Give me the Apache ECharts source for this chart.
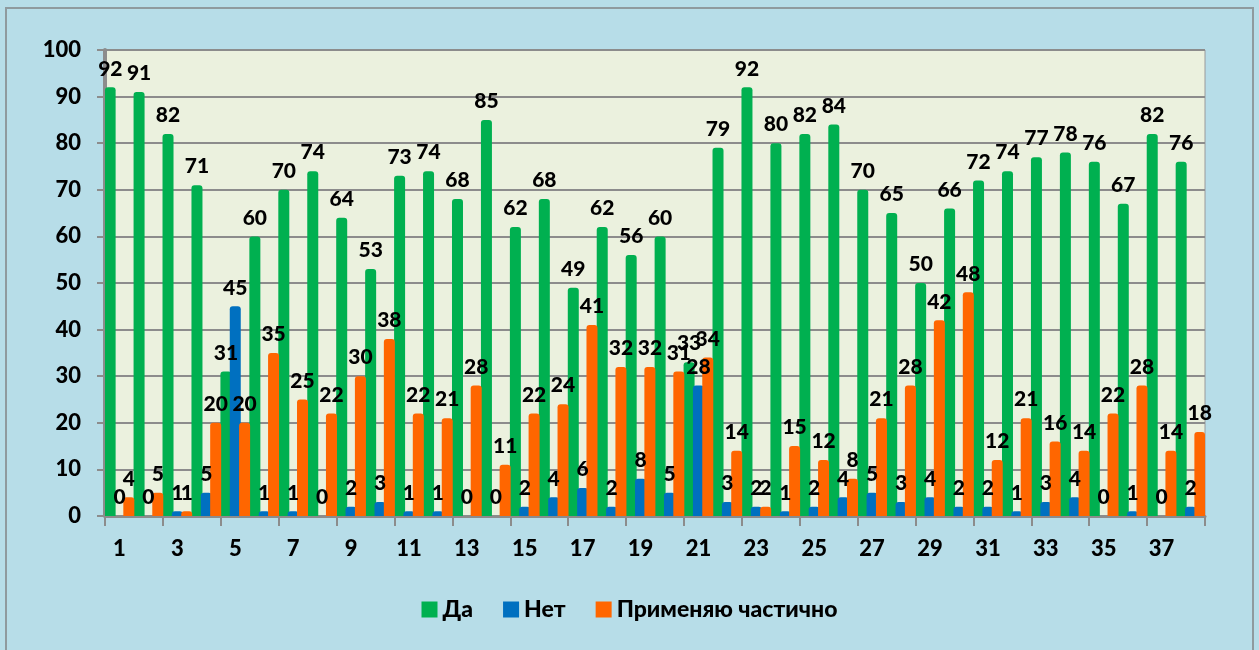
<!DOCTYPE html>
<html>
<head>
<meta charset="utf-8">
<script src="https://cdn.jsdelivr.net/npm/echarts@6/dist/echarts.min.js"></script>
<style>
  html, body { margin: 0; padding: 0; background: #b7dde8; }
  #main { width: 1259px; height: 650px; }
</style>
</head>
<body>
<div id="main"></div>
<script>
var categories = [];
for (var i = 1; i <= 38; i++) categories.push(String(i));

var data_da = [92, 91, 82, 71, 31, 60, 70, 74, 64, 53, 73, 74, 68, 85, 62, 68, 49, 62, 56, 60,
	33, 79, 92, 80, 82, 84, 70, 65, 50, 66, 72, 74, 77, 78, 76, 67, 82, 76];
var data_net = [0, 0, 1, 5, 45, 1, 1, 0, 2, 3, 1, 1, 0, 0, 2, 4, 6, 2, 8, 5,
	28, 3, 2, 1, 2, 4, 5, 3, 4, 2, 2, 1, 3, 4, 0, 1, 0, 2];
var data_part = [4, 5, 1, 20, 20, 35, 25, 22, 30, 38, 22, 21, 28, 11, 22, 24, 41, 32, 32, 31,
	34, 14, 2, 15, 12, 8, 21, 28, 42, 48, 12, 21, 16, 14, 22, 28, 14, 18];

var labelStyle = {
	show: true,
	position: 'top',
	distance: 8,
	color: '#000',
	fontFamily: 'Lato',
	fontWeight: 900,
	fontSize: 21
};

var option = {
	backgroundColor: '#b7dde8',
	graphic: [
		{
			type: 'rect',
			shape: { x: 6, y: 8, width: 1247, height: 660 },
			style: { fill: 'none', stroke: '#8f9a9e', lineWidth: 2 }
		}
	],
	legend: {
		data: ['Да', 'Нет', 'Применяю частично'],
		bottom: 24,
		left: 'center',
		itemWidth: 16,
		itemHeight: 16,
		itemGap: 30,
		icon: 'rect',
		textStyle: { fontFamily: 'Lato', fontWeight: 900, fontSize: 23, color: '#000' }
	},
	grid: {
		left: 105,
		right: 54,
		top: 50,
		bottom: 134,
		show: true,
		backgroundColor: '#ebf1de',
		borderColor: '#9a9a9a',
		borderWidth: 1
	},
	xAxis: {
		type: 'category',
		data: categories,
		axisLine: { lineStyle: { color: '#8c8c8c', width: 3 } },
		axisTick: { show: true, length: 10, lineStyle: { color: '#8c8c8c', width: 2 } },
		axisLabel: {
			interval: 1,
			margin: 22,
			color: '#000',
			fontFamily: 'Lato',
			fontWeight: 900,
			fontSize: 22
		}
	},
	yAxis: {
		type: 'value',
		min: 0,
		max: 100,
		interval: 10,
		axisLine: { show: true, lineStyle: { color: '#8c8c8c', width: 4 } },
		axisTick: { show: true, length: 8, lineStyle: { color: '#8c8c8c', width: 2 } },
		splitLine: { lineStyle: { color: '#8c8c8c', width: 2 } },
		axisLabel: {
			margin: 24,
			color: '#000',
			fontFamily: 'Lato',
			fontWeight: 900,
			fontSize: 22
		}
	},
	series: [
		{
			name: 'Да',
			type: 'bar',
			data: data_da,
			barWidth: 11,
			barGap: '-15%',
			itemStyle: { color: '#00b050', borderRadius: [3, 3, 0, 0] },
			label: labelStyle
		},
		{
			name: 'Нет',
			type: 'bar',
			data: data_net,
			barWidth: 11,
			barGap: '-15%',
			itemStyle: { color: '#0070c0', borderRadius: [3, 3, 0, 0] },
			label: labelStyle
		},
		{
			name: 'Применяю частично',
			type: 'bar',
			data: data_part,
			barWidth: 11,
			barGap: '-15%',
			itemStyle: { color: '#ff6600', borderRadius: [3, 3, 0, 0] },
			label: labelStyle
		}
	]
};

var myChart = echarts.init(document.getElementById('main'));
myChart.setOption(option);
</script>
</body>
</html>
